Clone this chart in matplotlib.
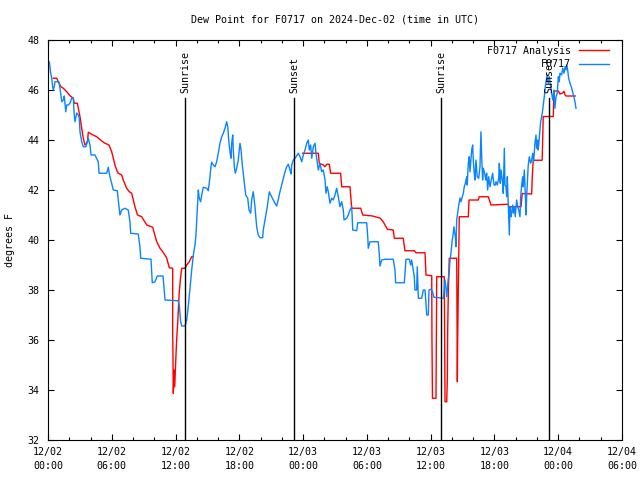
import matplotlib
matplotlib.use('Agg')
import matplotlib.pyplot as plt
import numpy as np
from matplotlib.ticker import MultipleLocator

nan = float('nan')

# ---- data (hours since 12/02 00:00 UTC, degrees F) ----
obs_hours = [0.12, 0.25, 0.35, 0.44, 0.50, 0.59, 0.66, 1.03, 1.13, 1.29, 1.44, 1.53, 1.67, 1.76, 1.91,
             2.07, 2.23, 2.38, 2.45, 2.54, 2.70, 2.85, 2.94, 3.01, 3.17, 3.32, 3.55, 3.67, 3.79, 3.95,
             4.05, 4.42, 4.73, 4.80, 5.52, 5.67, 5.83, 5.99, 6.14, 6.52, 6.61, 6.77, 6.93, 7.24, 7.55,
             7.71, 7.78, 8.49, 8.65, 8.72, 9.69, 9.81, 10.07, 10.28, 10.82, 11.01, 12.26, 12.35, 12.48,
             12.58, 12.89, 13.05, 13.20, 13.36, 13.52, 13.67, 13.83, 13.92, 13.99, 14.08, 14.14, 14.23,
             14.36, 14.46, 14.61, 14.93, 15.08, 15.24, 15.33, 15.40, 15.55, 15.71, 15.87, 16.02, 16.18,
             16.34, 16.49, 16.65, 16.81, 16.91, 17.00, 17.12, 17.22, 17.28, 17.38, 17.43, 17.53, 17.62,
             17.75, 17.90, 18.06, 18.16, 18.28, 18.47, 18.60, 18.79, 18.91, 19.07, 19.16, 19.31, 19.47,
             19.63, 19.78, 19.94, 20.20, 20.25, 20.41, 20.63, 20.82, 21.04, 21.35, 21.51, 21.66, 21.82,
             21.98, 22.13, 22.30, 22.45, 22.61, 22.77, 22.86, 22.93, 23.08, 23.24, 23.55, 23.71, 23.87,
             24.02, 24.18, 24.34, 24.49, 24.58, 24.71, 24.81, 24.96, 25.12, 25.21, 25.43, 25.59, 25.75,
             25.90, 26.06, 26.15, 26.27, 26.37, 26.53, 26.69, 26.84, 27.00, 27.16, 27.31, 27.47, 27.63,
             27.78, 27.85, 28.10, 28.25, 28.41, 28.57, 28.67, 29.04, 29.14, 29.98, 30.08, 30.13, 30.29,
             31.07, 31.17, 31.23, 31.39, 31.70, 32.48, 32.64, 32.71, 33.52, 33.68, 33.99, 34.12, 34.21,
             34.46, 34.52, 34.68, 34.74, 34.84, 35.15, 35.31, 35.47, 35.53, 35.63, 35.78, 35.84, 36.00,
             36.15, 36.31, 37.19, 37.28, 37.35, 37.44, 37.51, 37.66, 37.75, 37.82, 37.91, 37.98, 38.03,
             38.13, 38.19, 38.32, 38.38, 38.45, 38.54, 38.64, 38.76, 38.85, 39.07, 39.16, 39.26, 39.39,
             39.44, 39.54, 39.63, 39.70, 39.79, 39.86, 39.95, 40.01, 40.10, 40.17, 40.26, 40.38, 40.52,
             40.64, 40.73, 40.80, 40.89, 40.95, 41.08, 41.18, 41.27, 41.36, 41.46, 41.58, 41.74, 41.83,
             41.96, 42.08, 42.14, 42.27, 42.40, 42.46, 42.55, 42.62, 42.77, 42.83, 42.93, 42.99, 43.09,
             43.15, 43.21, 43.30, 43.40, 43.46, 43.56, 43.62, 43.72, 43.77, 43.87, 43.96, 44.09, 44.19,
             44.28, 44.40, 44.47, 44.56, 44.66, 44.71, 44.81, 44.90, 44.97, 45.03, 45.18, 45.28, 45.41,
             45.50, 45.60, 45.69, 45.81, 45.91, 45.97, 46.07, 46.12, 46.22, 46.28, 46.35, 46.44, 46.54,
             46.59, 46.69, 46.78, 46.88, 46.97, 47.06, 47.16, 47.29, 47.48, 47.60, 47.69, 47.79, 47.91,
             48.01, 48.10, 48.16, 48.32, 48.42, 48.54, 48.64, 48.73, 48.80, 48.89, 48.98, 49.11, 49.27,
             49.42, 49.58, 49.67]
obs_dewpt = [47.13, 46.67, 46.48, 46.13, 46.00, 46.13, 46.33, 46.33, 46.07, 45.53, 45.60, 45.76, 45.13, 45.40, 45.40,
             45.47, 45.67, 45.69, 45.08, 44.73, 45.08, 45.00, 44.87, 44.33, 43.93, 43.73, 43.73, 43.88, 44.07, 43.80,
             43.40, 43.40, 43.13, 42.67, 42.67, 42.91, 42.53, 42.27, 42.00, 41.97, 41.60, 41.00, 41.20, 41.27, 41.20,
             40.73, 40.27, 40.24, 39.73, 39.27, 39.23, 38.29, 38.33, 38.56, 38.56, 37.60, 37.57, 37.40, 36.73,
             36.56, 36.56, 36.80, 37.36, 38.08, 38.80, 39.40, 39.80, 40.20, 40.80, 41.60, 42.00, 41.67,
             41.53, 41.80, 42.11, 42.07, 41.97, 42.53, 42.93, 43.11, 43.00, 42.93, 43.13, 43.47, 43.87,
             44.13, 44.27, 44.47, 44.73, 44.53, 44.00, 43.53, 43.27, 43.87, 44.20, 43.60, 42.93, 42.67,
             42.87, 43.20, 43.87, 43.60, 43.00, 42.27, 41.80, 41.67, 41.20, 41.07, 41.60, 41.93, 41.33,
             40.53, 40.20, 40.09, 40.09, 40.40, 40.80, 41.33, 41.93, 41.73, 41.47, 41.36, 41.60, 41.93,
             42.20, 42.47, 42.73, 42.93, 43.03, 42.80, 42.64, 43.00, 43.20, 43.27, 43.47, 43.33, 43.13,
             43.40, 43.60, 43.87, 44.00, 43.60, 43.80, 43.27, 43.73, 43.87, 43.47, 42.80, 43.07, 42.73,
             42.80, 42.40, 41.87, 42.13, 41.93, 41.47, 41.67, 41.60, 41.80, 42.07, 41.73, 41.33, 41.53,
             41.20, 40.80, 40.87, 41.00, 41.20, 41.33, 40.40, 40.37, 40.69, 40.69, 40.13, 39.67, 39.93,
             39.93, 39.40, 38.96, 39.20, 39.23, 39.23, 38.80, 38.29, 38.29, 39.23, 39.23, 39.00, 39.20,
             38.53, 38.00, 38.00, 38.93, 37.67, 37.67, 38.00, 38.00, 37.60, 37.00, 37.00, 38.00, 38.03,
             37.97, 37.71, 37.67, 38.03, 38.40, 38.07, 37.73, 38.47, 38.73, 39.20, 39.47, 39.80, 40.00,
             40.27, 40.53, 40.13, 39.73, 40.80, 41.07, 41.40, 41.68, 41.53, 41.87, 42.13, 42.27, 42.53,
             42.20, 43.07, 43.33, 42.73, 43.20, 43.60, 43.80, 43.20, 42.67, 42.40, 43.20, 42.53, 42.47,
             42.93, 44.33, 43.33, 42.40, 42.87, 42.67, 42.40, 42.67, 42.00, 42.53, 42.13, 42.47, 42.67,
             42.20, 42.20, 42.33, 42.20, 42.47, 43.07, 42.27, 42.80, 42.27, 41.87, 43.67, 42.20, 42.13,
             41.73, 42.53, 41.47, 40.20, 41.33, 40.93, 41.13, 41.40, 41.07, 41.33, 40.93, 41.60, 41.33,
             41.20, 40.93, 41.73, 42.20, 42.53, 42.13, 42.80, 41.87, 41.00, 41.73, 43.00, 43.33, 43.07,
             43.20, 43.47, 43.13, 43.87, 44.20, 43.67, 44.00, 43.60, 44.13, 44.40, 44.73, 44.93, 45.20,
             45.40, 45.73, 46.13, 46.40, 46.60, 46.27, 46.53, 46.13, 45.60, 46.00, 45.27, 45.73, 45.87,
             46.53, 46.33, 46.67, 46.60, 46.87, 46.67, 46.93, 46.80, 47.00, 46.80, 46.47, 46.27, 46.07,
             45.80, 45.53, 45.27]

ana_hours = [0.50, 0.82, 0.97, 1.22, 1.44, 1.76, 2.07, 2.38, 2.47, 2.76, 2.85, 3.01, 3.17, 3.32, 3.48,
             3.64, 3.73, 3.79, 4.11, 4.58, 5.05, 5.36, 5.74, 5.99, 6.14, 6.30, 6.46, 6.61, 6.93, 7.08,
             7.40, 7.65, 7.87, 8.02, 8.18, 8.42, 8.81, 9.29, 9.85, 10.00, 10.23, 10.54, 10.85, 11.17,
             11.41, 11.73, 11.73, 11.79, 11.85, 11.92, 11.98, 12.04, 12.11, 12.20, 12.35, 12.48, 12.58,
             12.89, 13.05, 13.29, 13.52, 13.67, 18.0,
             23.96, 25.43, 25.52, 25.90, 26.06, 26.22, 26.46, 26.59, 27.53, 27.63, 28.41, 28.57, 29.42,
             29.60, 30.55, 30.86, 31.23, 31.54, 31.70, 31.92, 32.48, 32.58, 33.42, 33.58, 34.46, 34.62,
             35.47, 35.56, 36.10, 36.12, 36.17, 36.50, 36.57, 37.28, 37.35, 37.51, 37.57, 37.60, 37.66,
             37.75, 38.45, 38.51, 38.54, 38.69, 39.54, 39.61, 40.48, 40.57, 41.42, 41.58, 41.67, 43.27,
             43.37, 44.50, 44.61, 45.50, 45.56, 45.65, 46.49, 46.59, 47.54, 47.60, 48.01, 48.16, 48.42,
             48.54, 48.65, 48.73, 49.60]
ana_dewpt = [46.47, 46.47, 46.33, 46.13, 46.07, 45.93, 45.77, 45.67, 45.47, 45.47, 45.27, 44.93, 44.47, 44.07, 43.80,
             43.87, 44.00, 44.31, 44.23, 44.13, 43.96, 43.87, 43.80, 43.53, 43.27, 43.00, 42.80, 42.67, 42.60, 42.40,
             42.07, 41.93, 41.87, 41.60, 41.33, 41.00, 40.93, 40.60, 40.51, 40.27, 39.93, 39.67, 39.50, 39.28,
             38.89, 38.87, 36.40, 33.87, 34.80, 34.13, 34.80, 35.40, 36.07, 36.67, 37.93, 38.53, 38.87,
             38.87, 39.00, 39.13, 39.33, 39.33, nan,
             43.47, 43.47, 43.07, 43.00, 42.93, 43.03, 43.03, 42.67, 42.67, 42.13, 42.13, 41.27, 41.27,
             41.00, 40.96, 40.92, 40.88, 40.73, 40.60, 40.43, 40.40, 40.07, 40.07, 39.57, 39.57, 39.49,
             39.49, 38.60, 38.57, 36.13, 33.67, 33.67, 38.53, 38.53, 33.53, 33.53, 34.47, 36.40, 37.87,
             39.27, 39.27, 34.33, 36.00, 40.93, 40.93, 41.60, 41.60, 41.73, 41.73, 41.53, 41.40, 41.43,
             41.33, 41.33, 41.86, 41.84, 42.53, 43.19, 43.19, 44.94, 44.94, 45.96, 45.96, 45.84, 45.88,
             45.95, 45.80, 45.76, 45.76]

event_hours = [12.92, 23.14, 37.00, 47.16]
event_labels = ['Sunrise', 'Sunset', 'Sunrise', 'Sunset']

tick_hours = [0, 6, 12, 18, 24, 30, 36, 42, 48, 54]
tick_labels = ['12/02\n00:00', '12/02\n06:00', '12/02\n12:00', '12/02\n18:00', '12/03\n00:00',
               '12/03\n06:00', '12/03\n12:00', '12/03\n18:00', '12/04\n00:00', '12/04\n06:00']
y_ticks = [32, 34, 36, 38, 40, 42, 44, 46, 48]

title = 'Dew Point for F0717 on 2024-Dec-02 (time in UTC)'

# ---- figure ----
plt.rcParams['font.family'] = ['DejaVu Sans Mono', 'DejaVu Sans']
FS = 7.2

fig = plt.figure(figsize=(6.4, 4.8), dpi=100)
ax = fig.add_axes([48/640, 40/480, 574/640, 400/480])

ax.plot(ana_hours, ana_dewpt, color='#ff0000', lw=1.0, label='F0717 Analysis')
ax.plot(obs_hours, obs_dewpt, color='#0a84ff', lw=1.0, label='F0717')

for h, lab in zip(event_hours, event_labels):
    ax.axvline(h, ymin=0, ymax=0.855, color='black', lw=1.0)
    ax.text(h, 0.868, lab, transform=ax.get_xaxis_transform(), rotation=90,
            ha='center', va='bottom', fontsize=FS)

ax.set_xlim(0, 54)
ax.set_ylim(32, 48)
ax.set_xticks(tick_hours)
ax.set_xticklabels(tick_labels, fontsize=FS, linespacing=1.5)
ax.xaxis.set_minor_locator(MultipleLocator(2))
ax.set_yticks(y_ticks)
ax.set_yticklabels([str(v) for v in y_ticks], fontsize=FS)
ax.tick_params(which='both', direction='in', top=True, right=True, color='black', width=0.8)
ax.tick_params(which='major', length=4.0)
ax.tick_params(which='minor', length=2.0)
ax.tick_params(axis='x', which='major', pad=5)
ax.tick_params(axis='y', which='major', pad=6)
for s in ax.spines.values():
    s.set_linewidth(0.8)

leg = ax.legend(loc='upper right', bbox_to_anchor=(0.98, 0.99), frameon=False,
                markerfirst=False, fontsize=FS, handlelength=3.0, handletextpad=0.8,
                labelspacing=0.35, borderaxespad=0.0, borderpad=0.2)

fig.text(335/640, 1 - 20/480, title, ha='center', va='center', fontsize=FS)
fig.text(10/640, 0.5, 'degrees F', rotation=90, ha='center', va='center', fontsize=FS)

fig.savefig('out.png', dpi=100)
